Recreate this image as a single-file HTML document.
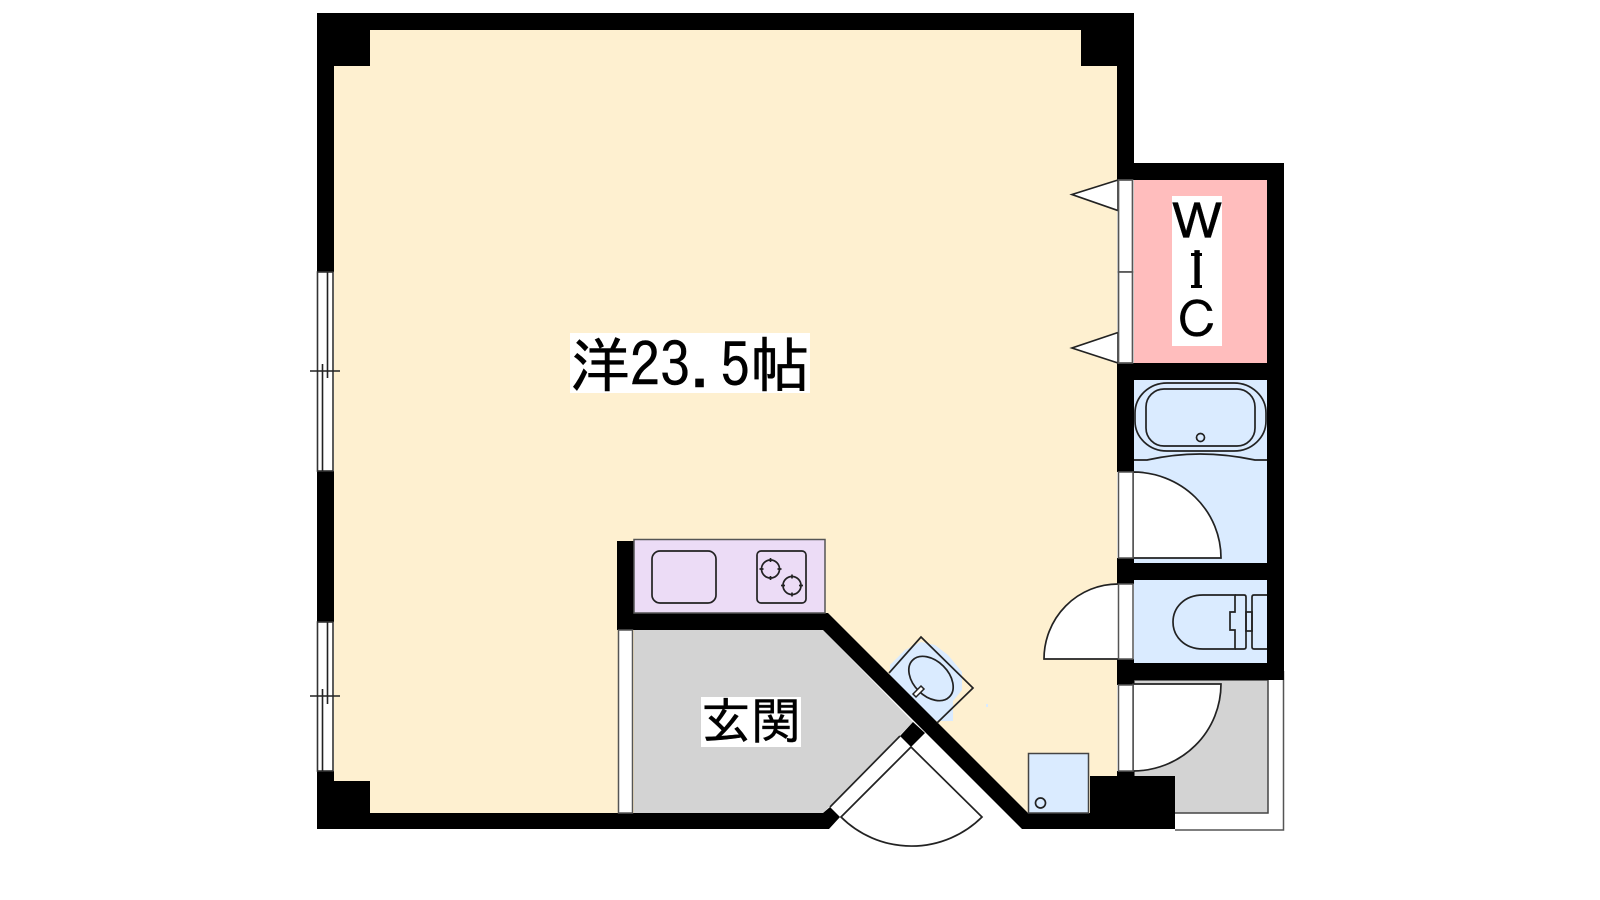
<!DOCTYPE html>
<html><head><meta charset="utf-8">
<style>
html,body{margin:0;padding:0;background:#fff;width:1600px;height:900px;overflow:hidden}
svg{display:block}
text{font-family:"IPAGothic","Noto Sans CJK JP",sans-serif;fill:#000}
</style></head><body>
<svg width="1600" height="900" viewBox="0 0 1600 900" xmlns="http://www.w3.org/2000/svg">
<rect width="1600" height="900" fill="#fff"/>
<!-- floor -->
<polygon points="334,30 1117,30 1117,813 1028,813 828,613 617,613 617,813 334,813" fill="#fef0d0"/>
<rect x="617" y="541" width="20" height="280" fill="#fef0d0"/>
<polygon points="634,630 823,630 913,722 823,813 634,813" fill="#d3d3d3"/>
<rect x="1134" y="180" width="133" height="183" fill="#ffbdbd"/>
<rect x="1134" y="380" width="133" height="183" fill="#daebff"/>
<rect x="1134" y="580" width="133" height="83" fill="#daebff"/>
<rect x="1134" y="680" width="134" height="133" fill="#d3d3d3" stroke="#444" stroke-width="1.5"/>
<path d="M1175 830H1283.5V671" fill="none" stroke="#555" stroke-width="1.5"/>
<!-- wash basin fill, under the walls -->
<polygon points="921,642 935,645 948,655 962,672 962,690 953,701 953,721 937,721 918,708 905,700 890,680 890,665 905,650" fill="#daebff"/>
<!-- walls -->
<g fill="#000">
<rect x="317" y="13" width="817" height="17"/>
<rect x="317" y="13" width="17" height="259"/>
<rect x="317" y="471" width="17" height="151"/>
<rect x="317" y="771" width="17" height="58"/>
<rect x="317" y="13" width="53" height="53"/>
<rect x="1081" y="13" width="53" height="53"/>
<rect x="317" y="781" width="53" height="48"/>
<rect x="1117" y="13" width="17" height="167"/>
<rect x="1117" y="163" width="167" height="17"/>
<rect x="1267" y="163" width="17" height="517"/>
<rect x="1117" y="363" width="167" height="17"/>
<rect x="1117" y="363" width="17" height="109"/>
<rect x="1117" y="563" width="167" height="17"/>
<rect x="1117" y="558" width="17" height="26"/>
<rect x="1117" y="663" width="167" height="17"/>
<rect x="1117" y="659" width="17" height="26"/>
<rect x="1117" y="771" width="17" height="10"/>
<rect x="1090" y="776" width="85" height="53"/>
<rect x="1022" y="813" width="153" height="16"/>
<polygon points="828,613 1028,813 1028,829 1022,829 823,630"/>
<rect x="617" y="541" width="17" height="89"/>
<rect x="617" y="613" width="211" height="17"/>
<polygon points="317,813 823,813 830,807 840,817 829,829 317,829"/>
<polygon points="913,722 925,733 911,747 900,736"/>
</g>
<!-- left windows -->
<g fill="#fff" stroke="#333" stroke-width="1.6">
<rect x="317.5" y="272" width="15.5" height="199"/>
<rect x="317.5" y="622" width="15.5" height="149"/>
</g>
<g stroke="#222" stroke-width="1.6" fill="none">
<path d="M327.5 272V378M322.5 364V471M310 371H340"/>
<path d="M327.5 622V704M322.5 689V771M310 696H340"/>
</g>
<!-- kitchen window -->
<rect x="618.5" y="630" width="14" height="183" fill="#fff" stroke="#555" stroke-width="1.5"/>
<!-- WIC doors -->
<g fill="#fff" stroke="#222" stroke-width="1.7">
<polygon points="1118,180 1072,194.500 1118,210.500"/>
<polygon points="1118,332.500 1072,348 1118,363"/>
<rect x="1118.500" y="180" width="14" height="92" stroke="#555"/>
<rect x="1118.500" y="272" width="14" height="91" stroke="#555"/>
</g>
<!-- bath door -->
<path d="M1133 472A88 86 0 0 1 1221 558H1133Z" fill="#fff" stroke="#222" stroke-width="1.700"/>
<rect x="1118.500" y="472" width="14.500" height="86" fill="#fff" stroke="#555" stroke-width="1.500"/>
<!-- toilet door -->
<path d="M1118 584A74 75 0 0 0 1044 659H1133" fill="#fff" stroke="#222" stroke-width="1.700"/>
<rect x="1118.500" y="584" width="14.500" height="75" fill="#fff" stroke="#555" stroke-width="1.500"/>
<!-- store door -->
<path d="M1133 684H1221A88 87 0 0 1 1133 771Z" fill="#fff" stroke="#222" stroke-width="1.700"/>
<rect x="1118.500" y="685" width="14.500" height="86" fill="#fff" stroke="#555" stroke-width="1.500"/>
<!-- tub -->
<g fill="none" stroke="#222" stroke-width="1.700">
<rect x="1135" y="383" width="131" height="68" rx="32" ry="30"/>
<rect x="1146" y="389" width="109" height="57" rx="18" ry="18"/>
<circle cx="1200.500" cy="437.500" r="4"/>
<path d="M1134 460H1147C1165 456 1180 454 1200 454C1220 454 1236 456 1255 460H1267"/>
</g>
<!-- toilet -->
<g fill="none" stroke="#222" stroke-width="1.700">
<path d="M1235 595H1203C1184 595 1173 608 1173 622C1173 636 1184 649 1203 649H1235V630H1230V612H1235Z"/>
<path d="M1235 595H1244Q1246 595 1246 597V647Q1246 649 1244 649H1235"/>
<rect x="1246" y="612" width="6" height="19"/>
<path d="M1267 595H1254Q1252 595 1252 597V647Q1252 649 1254 649H1267"/>
</g>
<!-- box near bottom -->
<rect x="1028.500" y="753.500" width="60" height="59.500" fill="#daebff" stroke="#444" stroke-width="1.500"/>
<circle cx="1040.500" cy="803" r="5" fill="none" stroke="#222" stroke-width="1.700"/>
<!-- kitchen -->
<rect x="634" y="539.500" width="191" height="73.500" fill="#ecdcf6" stroke="#555" stroke-width="1.500"/>
<g fill="none" stroke="#222" stroke-width="1.700">
<rect x="652" y="551" width="64" height="52" rx="8"/>
<rect x="757" y="551" width="49" height="52" rx="4"/>
<circle cx="770.500" cy="569" r="9"/>
<circle cx="792" cy="585.500" r="9"/>
<path d="M770.500 558V562M770.500 576V580M759.500 569H763.500M777.500 569H781.500M792 574.500V578.500M792 592.500V596.500M781 585.500H785M799 585.500H803"/>
</g>
<!-- wash basin lines -->
<polyline points="889,673 921,637 973,688 937,723" fill="none" stroke="#222" stroke-width="1.700"/>
<ellipse cx="931" cy="678.500" rx="26" ry="17.500" transform="rotate(45 931 678.500)" fill="none" stroke="#222" stroke-width="1.700"/>
<polygon points="913,694 921,686 924,689 916,697" fill="#fff" stroke="#222" stroke-width="1.500"/>
<rect x="986" y="704" width="2" height="3" fill="#daebff"/>
<!-- entrance door -->
<path d="M830 807L900 736" stroke="#222" stroke-width="1.700" fill="none"/>
<path d="M841 817L911 747L982 817A100 100 0 0 1 841 817Z" fill="#fff" stroke="#222" stroke-width="1.700"/>
<!-- labels -->
<rect x="570" y="333" width="240" height="60" fill="#fff"/>
<text x="570" y="387" font-size="60" stroke="#000" stroke-width="0.5">洋23.5帖</text>
<rect x="1172" y="196" width="50" height="150" fill="#fff"/>
<text x="1172" y="240" font-size="50" stroke="#000" stroke-width="0.3" transform="translate(1197 0) scale(1.1 1) translate(-1197 0)">Ｗ</text>
<text x="1172" y="288" font-size="50" stroke="#000" stroke-width="0.6">Ｉ</text>
<rect x="1191" y="253" width="11" height="3" fill="#000"/>
<rect x="1191" y="285" width="11" height="3" fill="#000"/>
<text x="1172" y="338" font-size="50" stroke="#000" stroke-width="0.3">Ｃ</text>
<rect x="701" y="697" width="100" height="50" fill="#fff"/>
<text x="701" y="739" font-size="50" stroke="#000" stroke-width="0.4">玄関</text>
</svg>
</body></html>
